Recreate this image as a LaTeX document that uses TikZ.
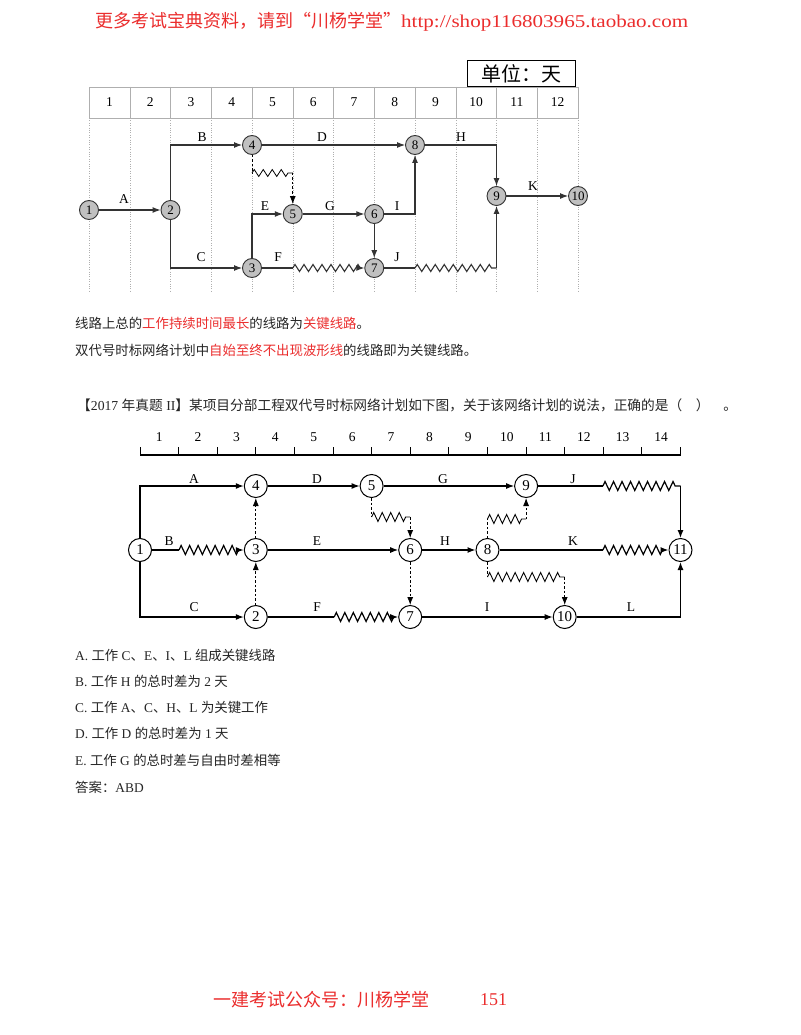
\documentclass[tikz,border=0pt]{standalone}
\usepackage{fontspec}
\setmainfont{Liberation Serif}
\newfontfamily\cjk{Noto Sans CJK SC}
\newfontfamily\urlfont[FakeStretch=1.17]{Liberation Serif}
\usetikzlibrary{arrows.meta,decorations.pathmorphing}
\definecolor{notered}{RGB}{235,45,45}
\definecolor{nodegray}{RGB}{192,192,192}
\definecolor{gridgray}{RGB}{175,175,175}
\newcommand{\zh}[1]{{\cjk #1}}
\newcommand{\hl}[1]{\textcolor{notered}{#1}}

\begin{document}
\begin{tikzpicture}[x=1pt,y=-1pt,
    arrow/.style={-{Latex[length=8pt,width=6pt]}},
    tnode/.style={circle,draw=black!80,fill=nodegray,line width=0.9pt,inner sep=0pt,
                  minimum size=19pt,font=\fontsize{13}{13}\selectfont},
    bnode/.style={circle,draw,fill=white,line width=1pt,inner sep=0pt,
                  minimum size=23pt,font=\fontsize{15}{15}\selectfont},
    tline/.style={line width=1.1pt,draw=black!80},
    bline/.style={line width=1.2pt},
    dummy/.style={line width=0.8pt,dash pattern=on 2.5pt off 2pt},
    twave/.style={decorate,decoration={zigzag,segment length=9pt,amplitude=3.5pt,post length=3pt}},
    bwave/.style={decorate,decoration={zigzag,segment length=8.5pt,amplitude=4.5pt,post length=3pt}},
    lbl/.style={inner sep=0pt,font=\fontsize{13.5}{13.5}\selectfont},
    body/.style={anchor=west,inner sep=0pt,text=black!85,font=\fontsize{13.4}{13.4}\selectfont}
]
    \useasboundingbox (0,0) rectangle (800,1035);
    \fill[white] (0,0) rectangle (800,1035);

    % page header and footer
    \node[anchor=west,inner sep=0pt,text=notered,font=\cjk\fontsize{18}{18}\selectfont] (head) at (95,22)
        {更多考试宝典资料，请到“川杨学堂”{\urlfont http://shop116803965.taobao.com}};
    \node[anchor=west,inner sep=0pt,text=notered,font=\cjk\fontsize{18}{18}\selectfont] (foot) at (213,1000)
        {一建考试公众号：川杨学堂};
    \node[anchor=west,inner sep=0pt,text=notered,font=\fontsize{18}{18}\selectfont] (page) at (480,1000) {151};

    % first network: time scale
    \node[draw,line width=1.6pt,minimum width=108pt,minimum height=26pt,inner sep=0pt,
          font=\cjk\fontsize{20}{20}\selectfont] (unit) at (521.5,73.5) {单位：天};
    \draw[gridgray] (89,87) rectangle (578,118);
    \foreach \i in {1,...,11} \draw[gridgray] (89+\i*40.75,87) -- ++(0,31);
    \foreach \i in {1,...,12} \node[lbl] (c\i) at (68.625+\i*40.75,102.5) {\i};
    \foreach \i in {0,...,12} \draw[gridgray,dotted] (89+\i*40.75,118) -- (89+\i*40.75,292);

    \node[tnode] (t1) at (89,210) {1};
    \node[tnode] (t2) at (170.5,210) {2};
    \node[tnode] (t3) at (252,268) {3};
    \node[tnode] (t4) at (252,145) {4};
    \node[tnode] (t5) at (292.75,214) {5};
    \node[tnode] (t6) at (374.25,214) {6};
    \node[tnode] (t7) at (374.25,268) {7};
    \node[tnode] (t8) at (415,145) {8};
    \node[tnode] (t9) at (496.5,196) {9};
    \node[tnode] (t10) at (578,196) {10};
    \coordinate (tf) at (292.75,268);
    \coordinate (tj1) at (415,268);
    \coordinate (tj2) at (496.5,268);
    \coordinate (td1) at (252,173);
    \coordinate (td2) at (292.75,173);

    \draw[tline,arrow] (t1) -- (t2);
    \draw[tline,arrow] (t2) |- (t4);
    \draw[tline,arrow] (t2) |- (t3);
    \draw[tline,arrow] (t4) -- (t8);
    \draw[tline,arrow] (t3) |- (t5);
    \draw[tline,arrow] (t5) -- (t6);
    \draw[tline,arrow] (t6) -| (t8);
    \draw[tline,arrow] (t6) -- (t7);
    \draw[tline,arrow] (t8) -| (t9);
    \draw[tline,arrow] (t9) -- (t10);
    \draw[tline] (t3) -- (tf);
    \draw[tline,arrow,twave] (tf) -- (t7);
    \draw[tline] (t7) -- (tj1);
    \draw[tline,twave] (tj1) -- (tj2);
    \draw[tline,arrow] (tj2) -- (t9);
    \draw[dummy] (t4) -- (td1);
    \draw[line width=0.8pt,twave] (td1) -- (td2);
    \draw[dummy,arrow] (td2) -- (t5);

    \node[lbl] (ta) at (124,199) {A};
    \node[lbl] (tb) at (202,137) {B};
    \node[lbl] (tc) at (201,257) {C};
    \node[lbl] (td) at (322,137) {D};
    \node[lbl] (te) at (265,206) {E};
    \node[lbl] (tg) at (330,206) {G};
    \node[lbl] (ti) at (397,206) {I};
    \node[lbl] (tff) at (278,257) {F};
    \node[lbl] (tjj) at (397,257) {J};
    \node[lbl] (th) at (461,137) {H};
    \node[lbl] (tk) at (533,186) {K};

    % notes
    \node[body] (note1) at (75,323) {\zh{线路上总的\hl{工作持续时间最长}的线路为\hl{关键线路}。}};
    \node[body] (note2) at (75,350) {\zh{双代号时标网络计划中\hl{自始至终不出现波形线}的线路即为关键线路。}};
    \node[body,font=\fontsize{13.7}{13.7}\selectfont] (quest) at (77,405)
        {\zh{【}2017 \zh{年真题} II\zh{】某项目分部工程双代号时标网络计划如下图，关于该网络计划的说法，正确的是（}\quad\zh{）}\quad\zh{。}};

    % second network: time scale
    \draw[line width=1.4pt] (140,455) -- (680.5,455);
    \foreach \i in {0,...,14} \draw[line width=1pt] (140+\i*38.607,455) -- ++(0,-8);
    \foreach \i in {1,...,14} \node[lbl] (r\i) at (120.7+\i*38.607,437) {\i};

    \node[bnode] (b1) at (140,550) {1};
    \node[bnode] (b2) at (255.8,617) {2};
    \node[bnode] (b3) at (255.8,550) {3};
    \node[bnode] (b4) at (255.8,486) {4};
    \node[bnode] (b5) at (371.6,486) {5};
    \node[bnode] (b6) at (410.2,550) {6};
    \node[bnode] (b7) at (410.2,617) {7};
    \node[bnode] (b8) at (487.5,550) {8};
    \node[bnode] (b9) at (526.1,486) {9};
    \node[bnode] (b10) at (564.7,617) {10};
    \node[bnode] (b11) at (680.5,550) {11};
    \coordinate (bb) at (179,550);
    \coordinate (bj1) at (602.9,486);
    \coordinate (bj2) at (680.5,486);
    \coordinate (bk) at (602.9,550);
    \coordinate (bff) at (334.2,617);
    \coordinate (bd1) at (371.6,517);
    \coordinate (bd2) at (410.2,517);
    \coordinate (be1) at (487.5,519);
    \coordinate (be2) at (526.1,519);
    \coordinate (bg1) at (487.5,577);
    \coordinate (bg2) at (564.7,577);

    \draw[bline,arrow] (b1) |- (b4);
    \draw[bline,arrow] (b1) |- (b2);
    \draw[bline] (b1) -- (bb);
    \draw[bline,arrow,bwave] (bb) -- (b3);
    \draw[dummy,arrow] (b2) -- (b3);
    \draw[dummy,arrow] (b3) -- (b4);
    \draw[bline,arrow] (b4) -- (b5);
    \draw[bline,arrow] (b5) -- (b9);
    \draw[bline] (b9) -- (bj1);
    \draw[bline,bwave] (bj1) -- (bj2);
    \draw[bline,arrow] (bj2) -- (b11);
    \draw[dummy] (b5) -- (bd1);
    \draw[line width=0.9pt,bwave] (bd1) -- (bd2);
    \draw[dummy,arrow] (bd2) -- (b6);
    \draw[bline,arrow] (b3) -- (b6);
    \draw[bline,arrow] (b6) -- (b8);
    \draw[dummy] (b8) -- (be1);
    \draw[line width=0.9pt,bwave] (be1) -- (be2);
    \draw[dummy,arrow] (be2) -- (b9);
    \draw[bline] (b8) -- (bk);
    \draw[bline,arrow,bwave] (bk) -- (b11);
    \draw[dummy] (b8) -- (bg1);
    \draw[line width=0.9pt,bwave] (bg1) -- (bg2);
    \draw[dummy,arrow] (bg2) -- (b10);
    \draw[dummy,arrow] (b6) -- (b7);
    \draw[bline] (b2) -- (bff);
    \draw[bline,arrow,bwave] (bff) -- (b7);
    \draw[bline,arrow] (b7) -- (b10);
    \draw[bline,arrow] (b10) -| (b11);

    \node[lbl] (ba) at (194,479) {A};
    \node[lbl] (bd) at (317,479) {D};
    \node[lbl] (bgg) at (443,479) {G};
    \node[lbl] (bjj) at (573,479) {J};
    \node[lbl] (bbb) at (169,541) {B};
    \node[lbl] (be) at (317,541) {E};
    \node[lbl] (bh) at (445,541) {H};
    \node[lbl] (bkk) at (573,541) {K};
    \node[lbl] (bc) at (194,607) {C};
    \node[lbl] (bf) at (317,607) {F};
    \node[lbl] (bi) at (487,607) {I};
    \node[lbl] (bl) at (631,607) {L};

    % options
    \node[body] (optA) at (75,655) {A.\ \zh{工作} C\zh{、}E\zh{、}I\zh{、}L \zh{组成关键线路}};
    \node[body] (optB) at (75,681) {B.\ \zh{工作} H \zh{的总时差为} 2 \zh{天}};
    \node[body] (optC) at (75,707) {C.\ \zh{工作} A\zh{、}C\zh{、}H\zh{、}L \zh{为关键工作}};
    \node[body] (optD) at (75,733) {D.\ \zh{工作} D \zh{的总时差为} 1 \zh{天}};
    \node[body] (optE) at (75,760) {E.\ \zh{工作} G \zh{的总时差与自由时差相等}};
    \node[body] (ans) at (75,787) {\zh{答案：}ABD};
\end{tikzpicture}
\end{document}
